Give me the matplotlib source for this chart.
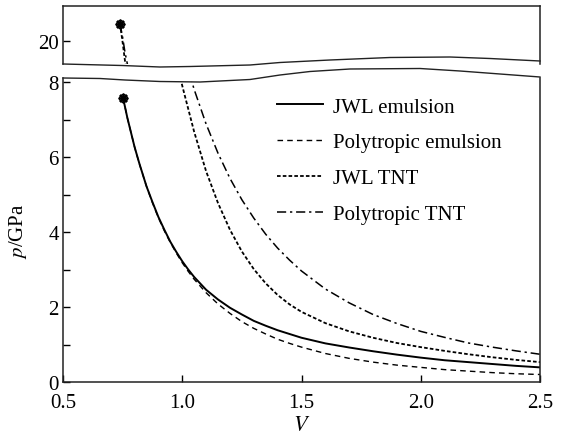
import matplotlib
matplotlib.use('Agg')
import matplotlib.pyplot as plt
from matplotlib.lines import Line2D
from matplotlib.patches import Polygon
from matplotlib.ticker import MultipleLocator

plt.rcParams['font.family'] = 'serif'
plt.rcParams['font.serif'] = ['Liberation Serif', 'DejaVu Serif']
plt.rcParams['mathtext.fontset'] = 'stix'

# relative volume V and pressure p (GPa)
v_jwl_emul = [0.752, 0.77, 0.80, 0.82, 0.85, 0.875, 0.90, 0.925, 0.95, 0.975, 1.00, 1.025, 1.05, 1.10,
              1.15, 1.20, 1.25, 1.30, 1.35, 1.40, 1.45, 1.50, 1.60, 1.70, 1.80, 1.90, 2.00, 2.10,
              2.20, 2.30, 2.40, 2.50]
p_jwl_emul = [7.57, 7.04, 6.27, 5.83, 5.22, 4.80, 4.40, 4.06, 3.74, 3.47, 3.22, 3.00, 2.80, 2.46,
              2.20, 1.98, 1.80, 1.63, 1.50, 1.38, 1.28, 1.18, 1.03, 0.92, 0.82, 0.73, 0.65, 0.58,
              0.53, 0.48, 0.43, 0.39]

v_poly_emul = [0.752, 0.77, 0.80, 0.82, 0.85, 0.875, 0.90, 0.925, 0.95, 0.975, 1.00, 1.025, 1.05, 1.10,
               1.15, 1.20, 1.25, 1.30, 1.35, 1.40, 1.45, 1.50, 1.60, 1.70, 1.80, 1.90, 2.00, 2.10,
               2.20, 2.30, 2.40, 2.50]
p_poly_emul = [7.57, 7.04, 6.27, 5.82, 5.22, 4.78, 4.38, 4.03, 3.72, 3.44, 3.18, 2.95, 2.74, 2.38,
               2.08, 1.83, 1.61, 1.43, 1.28, 1.14, 1.03, 0.93, 0.76, 0.63, 0.53, 0.45, 0.39, 0.33,
               0.29, 0.25, 0.22, 0.20]

v_jwl_tnt = [0.739, 0.75, 0.76, 0.80, 0.85, 0.90, 0.95, 1.00, 1.05, 1.10, 1.15, 1.20, 1.25, 1.30,
             1.35, 1.40, 1.45, 1.50, 1.60, 1.70, 1.80, 1.90, 2.00, 2.10, 2.20, 2.30, 2.40, 2.50]
p_jwl_tnt = [21.0, 19.9, 18.8, 15.5, 13.0, 11.0, 9.32, 7.9, 6.67, 5.62, 4.77, 4.06, 3.48, 3.01,
             2.63, 2.32, 2.07, 1.87, 1.57, 1.35, 1.18, 1.04, 0.93, 0.83, 0.74, 0.66, 0.59, 0.53]

v_poly_tnt = [0.739, 0.75, 0.76, 0.80, 0.85, 0.90, 0.95, 0.975, 1.00, 1.025, 1.05, 1.10, 1.15, 1.20,
              1.25, 1.30, 1.35, 1.40, 1.45, 1.50, 1.60, 1.70, 1.80, 1.90, 2.00, 2.10, 2.20, 2.30,
              2.40, 2.50]
p_poly_tnt = [21.0, 20.2, 19.3, 16.6, 13.8, 11.9, 10.3, 9.56, 8.9, 8.34, 7.8, 6.88, 6.10, 5.43,
              4.86, 4.37, 3.94, 3.57, 3.25, 2.96, 2.48, 2.11, 1.80, 1.56, 1.35, 1.19, 1.04, 0.93,
              0.83, 0.74]

cj_v = [0.752, 0.739]
cj_p = [7.57, 21.0]

labels = ['JWL emulsion', 'Polytropic emulsion', 'JWL TNT', 'Polytropic TNT']
x_ticks = [0.5, 1.0, 1.5, 2.0, 2.5]
y_ticks = [0, 2, 4, 6, 8]

W, H = 564, 439

def fx(x):
    return x / W

def fy(y):
    return 1 - y / H

fig = plt.figure(figsize=(W / 100, H / 100), dpi=100)
ax = fig.add_axes([fx(63), fy(383), 477 / W, 304 / H])
axt = fig.add_axes([fx(63), fy(65), 477 / W, 58 / H])

styles = [
    dict(linestyle='-', lw=1.4),
    dict(linestyle=(0, (4, 3)), lw=1.0),
    dict(linestyle=(0, (2, 1.2)), lw=1.3),
    dict(linestyle=(0, (6, 2.5, 1.5, 2.5)), lw=1.1),
]
series = [(v_jwl_emul, p_jwl_emul), (v_poly_emul, p_poly_emul),
          (v_jwl_tnt, p_jwl_tnt), (v_poly_tnt, p_poly_tnt)]

# wavy break lines (figure pixels)
wave_low = [(63, 79), (100, 79.5), (125, 81), (160, 82.5), (200, 83), (250, 80.5), (280, 76),
            (310, 72.5), (350, 70), (420, 69.5), (460, 72), (500, 75), (540, 78)]
wave_up = [(63, 65), (122, 66.5), (160, 68), (190, 67.5), (250, 66), (280, 63.5), (330, 61),
           (390, 58.5), (450, 58), (490, 59.5), (540, 62)]

clip_pts = [(fx(x), fy(y)) for x, y in wave_low] + [(fx(540), fy(400)), (fx(63), fy(400))]
clip_poly = Polygon(clip_pts, closed=True, transform=fig.transFigure)

handles = []
for (v, p), st, lab in zip(series, styles, labels):
    ln, = ax.plot(v, p, color='k', label=lab, **st)
    ln.set_clip_path(clip_poly)
    handles.append(ln)
    axt.plot(v, p, color='k', **st)

for a in (ax, axt):
    a.plot(cj_v, cj_p, linestyle='none', marker='o', ms=5.5, mfc='none', mec='k', mew=1.2)
    a.plot(cj_v, cj_p, linestyle='none', marker=(8, 2, 0), ms=7, mec='k', mew=1.2)

for pts in (wave_low, wave_up):
    fig.add_artist(Line2D([fx(x) for x, y in pts], [fy(y) for x, y in pts],
                          transform=fig.transFigure, color='#222222', lw=1.0))

ax.set_xlim(0.5, 2.5)
ax.set_ylim(0, (383 - 79) / 37.5)
axt.set_xlim(0.5, 2.5)
axt.set_ylim(20 - (65 - 41.7) / 17, 20 + (41.7 - 7) / 17)

ax.spines['top'].set_visible(False)
axt.spines['bottom'].set_visible(False)
for a in (ax, axt):
    for s in a.spines.values():
        s.set_linewidth(1.1)
        s.set_color('#222222')

ax.set_xticks(x_ticks)
ax.set_xticklabels([f'{t:.1f}' for t in x_ticks])
ax.set_yticks(y_ticks)
ax.set_yticklabels([str(t) for t in y_ticks])
ax.yaxis.set_minor_locator(MultipleLocator(1))
ax.tick_params(which='both', direction='in', length=5, width=1, labelsize=15,
               top=False, right=False)
ax.tick_params(axis='x', pad=8)
ax.tick_params(axis='y', pad=3)
axt.set_yticks([20])
axt.set_yticklabels(['20'])
axt.tick_params(direction='in', length=5, width=1, labelsize=15, pad=3,
                bottom=False, labelbottom=False, right=False)

ax.set_xlabel('$V$', fontsize=16, labelpad=3)
ax.set_ylabel('$p$/GPa', fontsize=15, labelpad=14)

ax.legend(handles=handles, loc='upper left', bbox_to_anchor=(fx(277), fy(98)),
          bbox_transform=fig.transFigure, frameon=False, fontsize=15,
          handlelength=2.2, handletextpad=0.5, labelspacing=0.78,
          borderpad=0, borderaxespad=0)

fig.savefig('out.png', dpi=100)
